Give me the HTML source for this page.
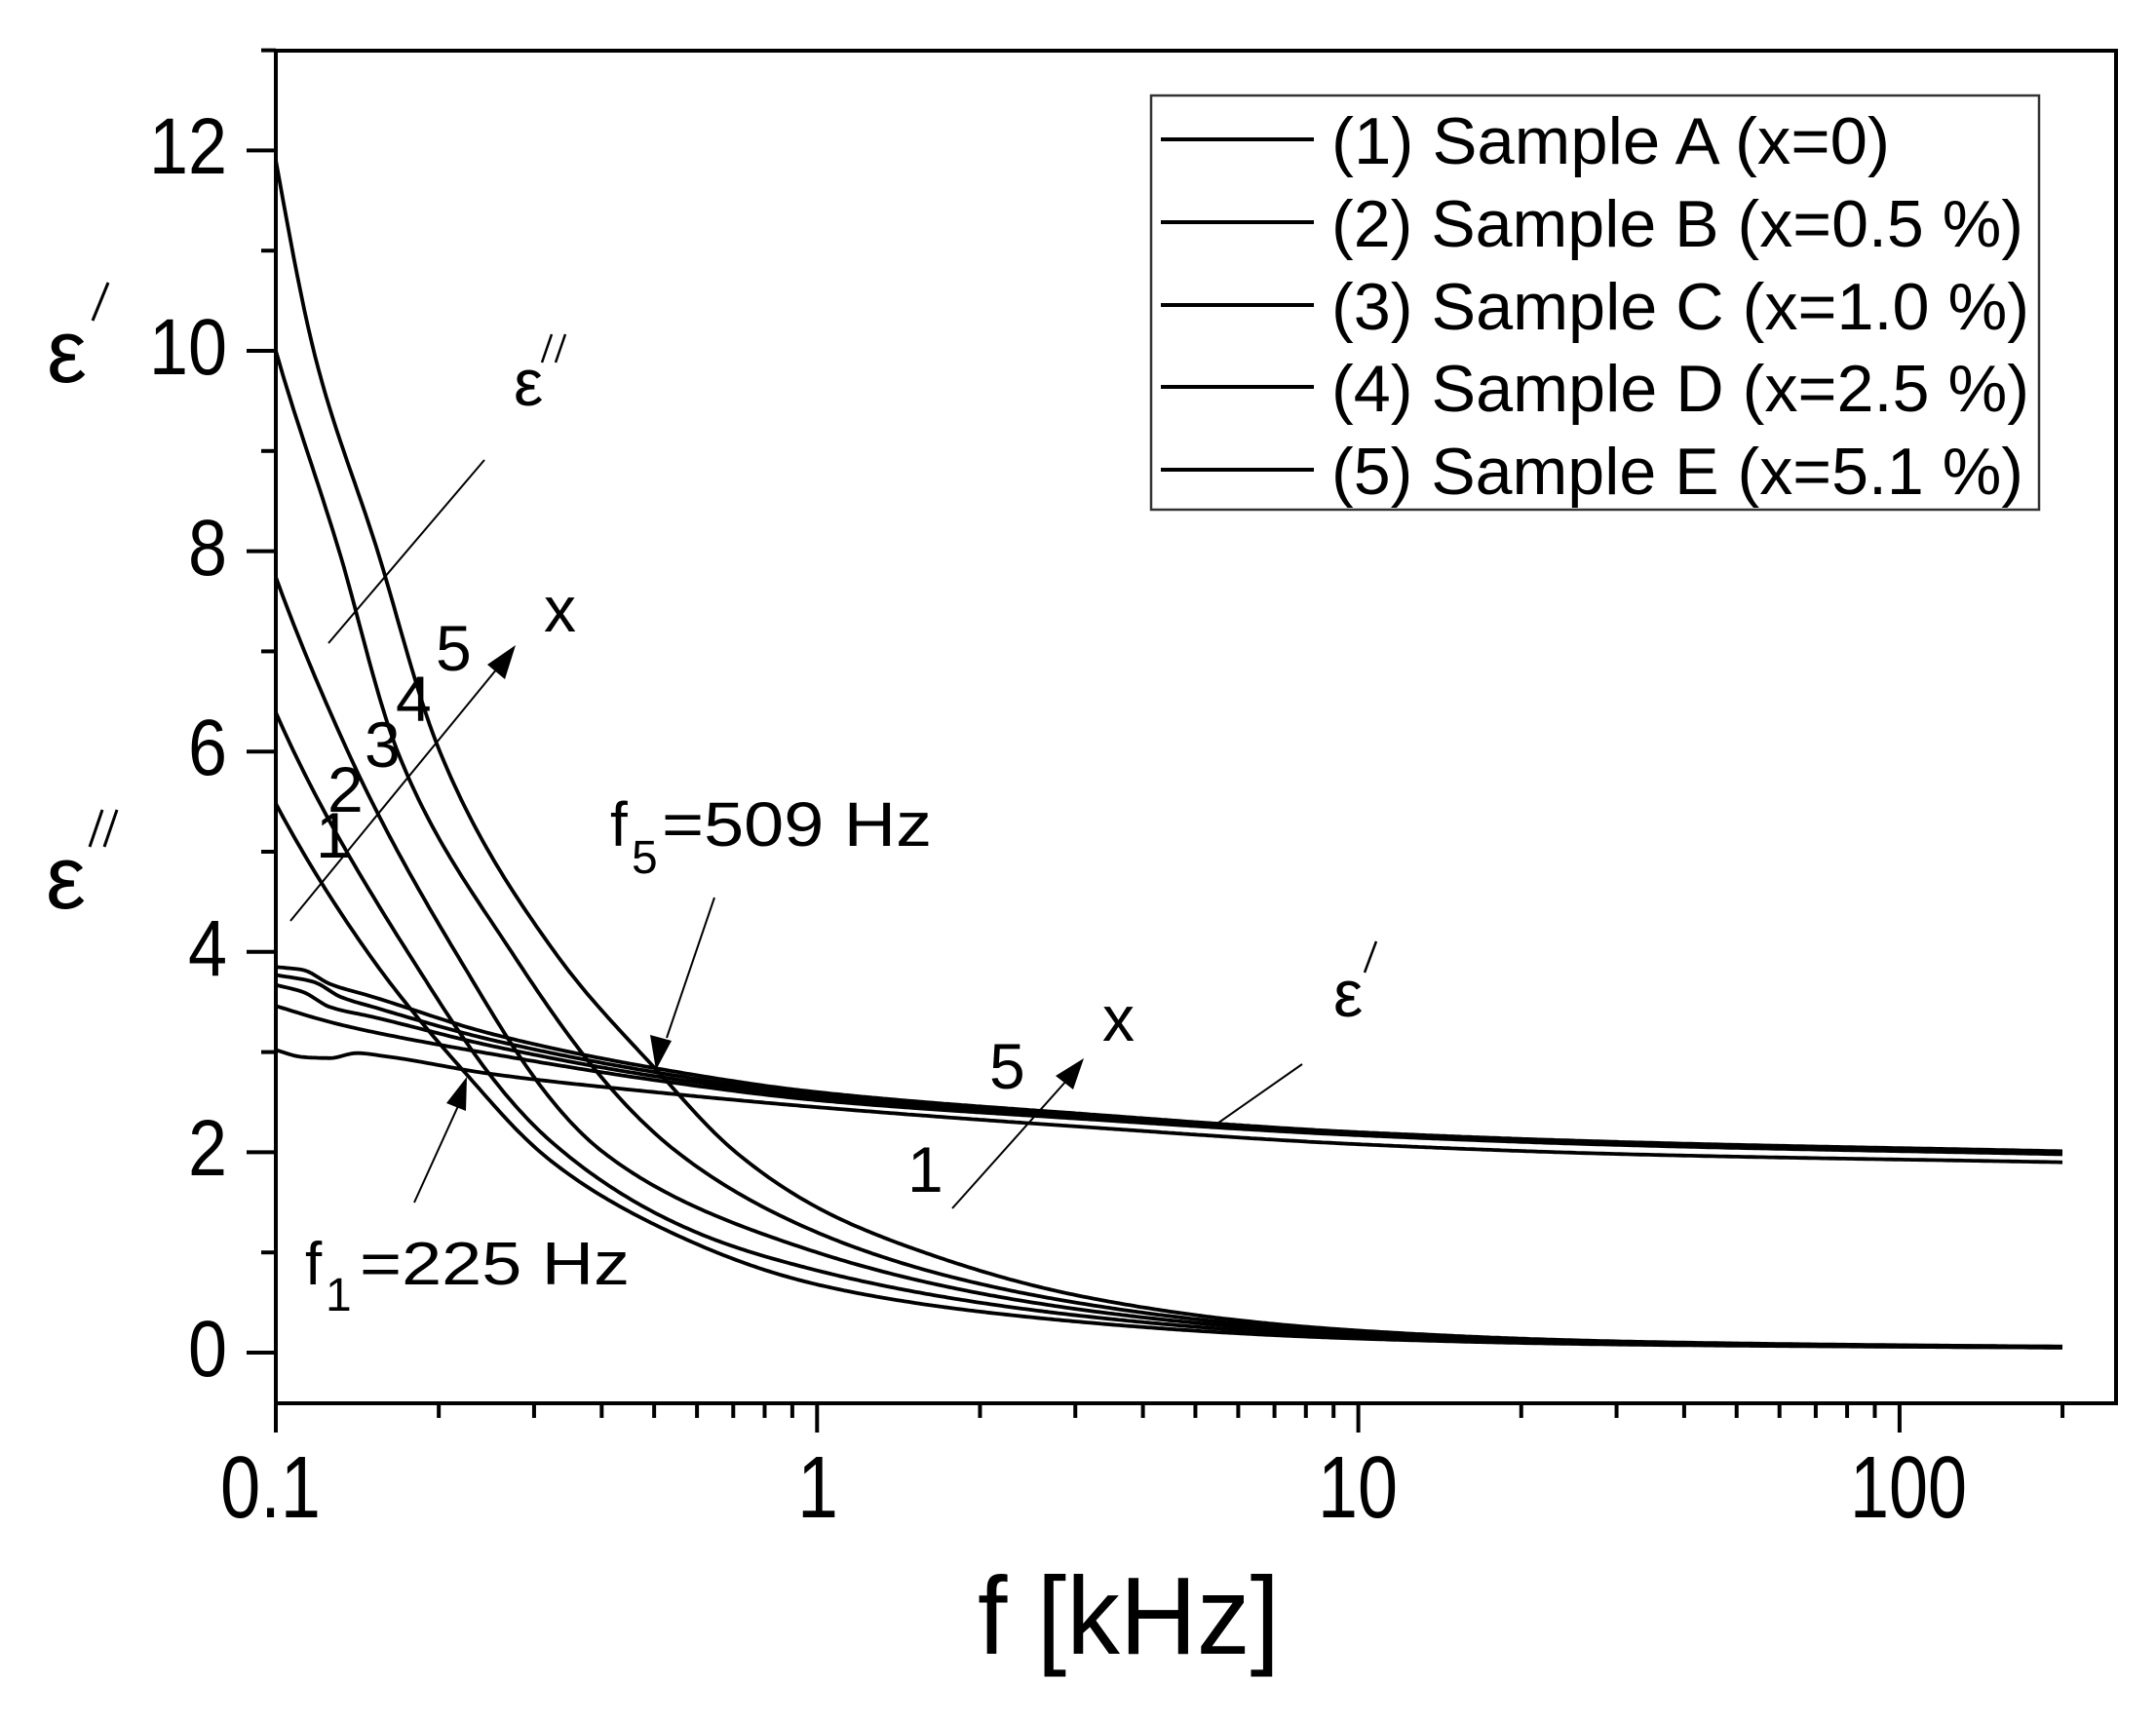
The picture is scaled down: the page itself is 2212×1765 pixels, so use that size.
<!DOCTYPE html>
<html><head><meta charset="utf-8"><style>
html,body{margin:0;padding:0;background:#fff;}
svg{display:block;}
text{font-family:"Liberation Sans",sans-serif;fill:#000;}
</style></head><body>
<svg id="s" width="2212" height="1765" viewBox="0 0 2212 1765" xmlns="http://www.w3.org/2000/svg">
<rect width="2212" height="1765" fill="#fff"/>
<g id="curves" fill="none" stroke="#000" stroke-width="3.8" stroke-linejoin="round"></g>
<g id="ticks" stroke="#000" stroke-width="4"></g>
<rect x="283" y="52" width="1888" height="1388" fill="none" stroke="#000" stroke-width="4"/>
<g font-size="82" text-anchor="end">
<text x="233" y="1412" textLength="40" lengthAdjust="spacingAndGlyphs">0</text>
<text x="233" y="1206" textLength="40" lengthAdjust="spacingAndGlyphs">2</text>
<text x="233" y="1001" textLength="40" lengthAdjust="spacingAndGlyphs">4</text>
<text x="233" y="795" textLength="40" lengthAdjust="spacingAndGlyphs">6</text>
<text x="233" y="590" textLength="40" lengthAdjust="spacingAndGlyphs">8</text>
<text x="233" y="384" textLength="80" lengthAdjust="spacingAndGlyphs">10</text>
<text x="233" y="178" textLength="80" lengthAdjust="spacingAndGlyphs">12</text>
</g>
<g font-size="90">
<text x="226" y="1557" textLength="103" lengthAdjust="spacingAndGlyphs">0.1</text>
<text x="818" y="1557" textLength="42" lengthAdjust="spacingAndGlyphs">1</text>
<text x="1352" y="1557" textLength="82" lengthAdjust="spacingAndGlyphs">10</text>
<text x="1898" y="1557" textLength="120" lengthAdjust="spacingAndGlyphs">100</text>
</g>
<text x="1003" y="1697" font-size="113" textLength="310" lengthAdjust="spacingAndGlyphs">f [kHz]</text>
<text x="48" y="392" font-size="92">ε</text>
<line x1="111" y1="290" x2="95" y2="329" stroke="#000" stroke-width="3"/>
<text x="47" y="932" font-size="92">ε</text>
<line x1="120" y1="831" x2="107" y2="869" stroke="#000" stroke-width="3"/>
<line x1="105" y1="831" x2="92" y2="869" stroke="#000" stroke-width="3"/>
<rect x="1181" y="98" width="911" height="425" fill="#fff" stroke="#333" stroke-width="2.5"/>
<g stroke="#000" stroke-width="4">
<line x1="1191" y1="143" x2="1348" y2="143"/>
<line x1="1191" y1="228" x2="1348" y2="228"/>
<line x1="1191" y1="313" x2="1348" y2="313"/>
<line x1="1191" y1="397" x2="1348" y2="397"/>
<line x1="1191" y1="482" x2="1348" y2="482"/>
</g>
<g font-size="68">
<text x="1366" y="168" textLength="573" lengthAdjust="spacingAndGlyphs">(1) Sample A (x=0)</text>
<text x="1366" y="253" textLength="710" lengthAdjust="spacingAndGlyphs">(2) Sample B (x=0.5 %)</text>
<text x="1366" y="338" textLength="716" lengthAdjust="spacingAndGlyphs">(3) Sample C (x=1.0 %)</text>
<text x="1366" y="422" textLength="716" lengthAdjust="spacingAndGlyphs">(4) Sample D (x=2.5 %)</text>
<text x="1366" y="507" textLength="710" lengthAdjust="spacingAndGlyphs">(5) Sample E (x=5.1 %)</text>
</g>
<g stroke="#000" stroke-width="2" fill="none">
<line x1="337" y1="660" x2="497" y2="472"/>
<line x1="298" y1="945" x2="515" y2="680"/>
<line x1="733" y1="921" x2="684" y2="1065"/>
<line x1="425" y1="1234" x2="470" y2="1135"/>
<line x1="977" y1="1240" x2="1095" y2="1108"/>
<line x1="1246" y1="1155" x2="1336" y2="1092"/>
</g>
<g fill="#000">
<polygon points="529,662 518,697 500,682"/>
<polygon points="673,1098 667,1062 689,1068"/>
<polygon points="479,1105 478,1140 458,1132"/>
<polygon points="1112,1086 1101,1118 1083,1104"/>
</g>
<text x="527" y="416" font-size="68">ε</text>
<line x1="580" y1="343" x2="570" y2="372" stroke="#000" stroke-width="2.5"/>
<line x1="566" y1="343" x2="556" y2="372" stroke="#000" stroke-width="2.5"/>
<text x="1368" y="1043" font-size="68">ε</text>
<line x1="1412" y1="966" x2="1400" y2="998" stroke="#000" stroke-width="2.5"/>
<g font-size="66">
<text x="558" y="648">x</text>
<text x="1131" y="1068">x</text>
<text x="324" y="880">1</text>
<text x="336" y="833">2</text>
<text x="374" y="787">3</text>
<text x="406" y="740">4</text>
<text x="447" y="688">5</text>
<text x="1015" y="1117">5</text>
<text x="931" y="1223">1</text>
</g>
<text x="626" y="868" font-size="64">f</text>
<text x="648" y="896" font-size="48">5</text>
<text x="679" y="868" font-size="64" textLength="277" lengthAdjust="spacingAndGlyphs">=509 Hz</text>
<text x="313" y="1318" font-size="62">f</text>
<text x="334" y="1345" font-size="48">1</text>
<text x="369" y="1318" font-size="62" textLength="277" lengthAdjust="spacingAndGlyphs">=225 Hz</text>
</svg>
<script>
(function(){
var NS="http://www.w3.org/2000/svg";
function X(lf){return 283+555.3*(lf+1);}
function Y(v){return 1388-102.8*v;}
function interp(pts,useLog){
  var n=pts.length,xs=[],ys=[];
  for(var i=0;i<n;i++){xs.push(pts[i][0]);ys.push(useLog?Math.log(pts[i][1]):pts[i][1]);}
  var d=[],m=[];
  for(i=0;i<n-1;i++)d.push((ys[i+1]-ys[i])/(xs[i+1]-xs[i]));
  m[0]=d[0];m[n-1]=d[n-2];
  for(i=1;i<n-1;i++){ if(d[i-1]*d[i]<=0)m[i]=0; else { var w1=2*(xs[i+1]-xs[i])+(xs[i]-xs[i-1]), w2=(xs[i+1]-xs[i])+2*(xs[i]-xs[i-1]); m[i]=(w1+w2)/(w1/d[i-1]+w2/d[i]); } }
  var out=[];
  var N=500;
  for(var k=0;k<=N;k++){
    var x=xs[0]+(xs[n-1]-xs[0])*k/N, j=0;
    while(j<n-2&&x>xs[j+1])j++;
    var h=xs[j+1]-xs[j],t=(x-xs[j])/h,t2=t*t,t3=t2*t;
    var y=(2*t3-3*t2+1)*ys[j]+(t3-2*t2+t)*h*m[j]+(-2*t3+3*t2)*ys[j+1]+(t3-t2)*h*m[j+1];
    if(useLog)y=Math.exp(y);
    out.push(X(x).toFixed(1)+","+Y(y).toFixed(1));
  }
  return "M"+out.join("L");
}
var E=2.301;
var dpp=[
 [[-1,11.9],[-0.93,10],[-0.812,8],[-0.697,6],[-0.481,3.97],[-0.293,2.8],[-0.15,2.0],[0,1.45],[0.225,0.95],[0.5,0.55],[1,0.22],[1.5,0.11],[E,0.06]],
 [[-1,10],[-0.883,8],[-0.775,6],[-0.561,3.97],[-0.258,2.0],[0,1.2],[0.5,0.48],[1,0.2],[1.5,0.1],[E,0.06]],
 [[-1,7.74],[-0.867,6],[-0.665,3.97],[-0.395,2.0],[0,1.0],[0.5,0.42],[1,0.18],[1.5,0.09],[E,0.055]],
 [[-1,6.39],[-0.753,3.97],[-0.49,2.1],[-0.2,1.15],[0,0.82],[0.5,0.36],[1,0.16],[1.5,0.085],[E,0.05]],
 [[-1,5.48],[-0.827,3.97],[-0.648,2.78],[-0.5,1.95],[-0.27,1.2],[0,0.68],[0.5,0.3],[1,0.14],[1.5,0.08],[E,0.05]]
];
var dp=[
 [[-1,3.02],[-0.95,2.95],[-0.9,2.94],[-0.85,2.99],[-0.8,2.96],[-0.6,2.78],[-0.3,2.6],[0,2.45],[0.5,2.25],[1,2.08],[1.5,1.98],[E,1.9]],
 [[-1,3.46],[-0.9,3.3],[-0.82,3.2],[-0.6,2.98],[-0.3,2.72],[0,2.52],[0.5,2.33],[1,2.17],[1.5,2.07],[E,1.98]],
 [[-1,3.67],[-0.95,3.6],[-0.9,3.45],[-0.82,3.35],[-0.6,3.06],[-0.3,2.76],[0,2.55],[0.5,2.35],[1,2.18],[1.5,2.08],[E,1.99]],
 [[-1,3.77],[-0.93,3.7],[-0.88,3.55],[-0.82,3.45],[-0.6,3.12],[-0.3,2.8],[0,2.57],[0.5,2.36],[1,2.19],[1.5,2.09],[E,2.0]],
 [[-1,3.85],[-0.95,3.82],[-0.9,3.68],[-0.82,3.55],[-0.6,3.18],[-0.3,2.84],[0,2.6],[0.5,2.38],[1,2.2],[1.5,2.1],[E,2.01]]
];
var g=document.getElementById("curves");
function add(d){var el=document.createElementNS(NS,"path");el.setAttribute("d",d);g.appendChild(el);}
dpp.forEach(function(d){add(interp(d,true));});
dp.forEach(function(d){add(interp(d,false));});
var t=document.getElementById("ticks");
function ln(x1,y1,x2,y2){var el=document.createElementNS(NS,"line");el.setAttribute("x1",x1);el.setAttribute("y1",y1);el.setAttribute("x2",x2);el.setAttribute("y2",y2);t.appendChild(el);}
for(var v=0;v<=13;v++){var y=Y(v);if(v%2==0)ln(253,y,283,y);else ln(268,y,283,y);}
for(var dec=-1;dec<=2;dec++){
  for(var k=1;k<=9;k++){
    var x=X(dec+Math.log10(k));
    if(x>2170)continue;
    if(k==1)ln(x,1440,x,1470);else ln(x,1440,x,1455);
  }
}
})();
</script>
</body></html>
